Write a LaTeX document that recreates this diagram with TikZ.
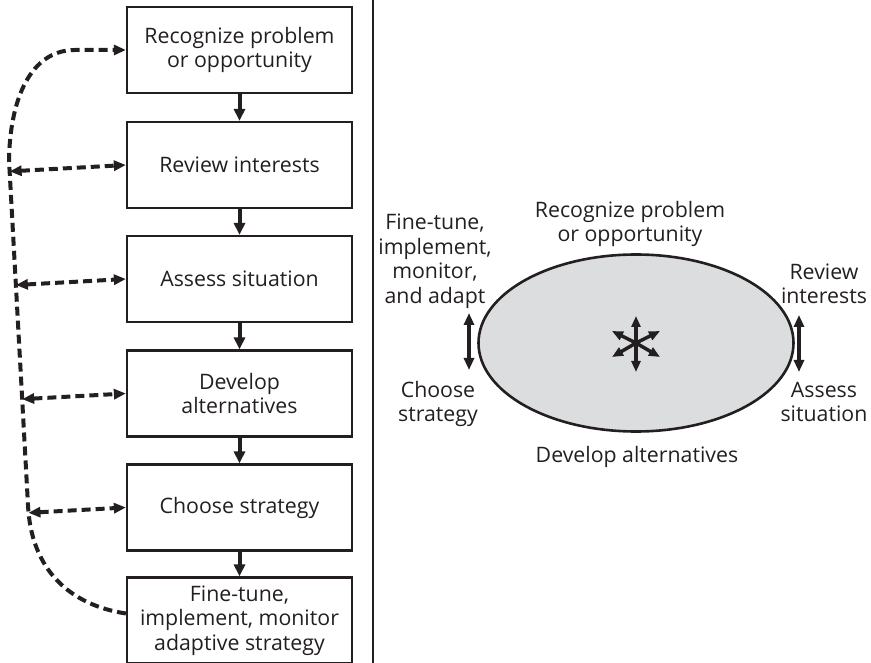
\documentclass[tikz,border=0pt]{standalone}
\usepackage{fontspec}
\setmainfont{Open Sans}
\usetikzlibrary{arrows.meta,calc,shapes.geometric}
\definecolor{ink}{HTML}{231F20}
\definecolor{panel}{HTML}{DCDDDF}
\begin{document}
\begin{tikzpicture}[x=1pt,y=-1pt,
  font=\fontsize{21.3}{24.5}\selectfont,
  every node/.style={text=ink},
  stepbox/.style={draw=ink, line width=2.2pt, minimum width=225pt,
    minimum height=86pt, align=center, inner sep=0pt},
  flow/.style={draw=ink, line width=4pt,
    -{Triangle[length=12pt,width=11pt]}},
  loop/.style={draw=ink, line width=4pt, dash pattern=on 9pt off 5pt},
  swing/.style={draw=ink, line width=4pt,
    {Triangle[length=12pt,width=10pt]}-{Triangle[length=12pt,width=10pt]}},
  spoke/.style={draw=ink, line width=3.5pt,
    -{Triangle[length=11pt,width=9pt]}},
  caption/.style={align=center, inner sep=0pt}
]
\useasboundingbox (0,0) rectangle (871,663);

% ---- left: the sequential process ----
\node[stepbox] (b1) at (239.5,50)    {Recognize problem\\or opportunity};
\node[stepbox] (b2) at (239.5,165)   {Review interests};
\node[stepbox] (b3) at (239.5,279)   {Assess situation};
\node[stepbox] (b4) at (239.5,393.5) {Develop\\alternatives};
\node[stepbox] (b5) at (239.5,507.5) {Choose strategy};
\node[stepbox] (b6) at (239.5,620.5) {Fine-tune,\\implement, monitor\\adaptive strategy};

\draw[flow] (b1) -- (b2);
\draw[flow] (b2) -- (b3);
\draw[flow] (b3) -- (b4);
\draw[flow] (b4) -- (b5);
\draw[flow] (b5) -- (b6);

% feedback loop running back up the left side
\coordinate (vt) at (9,160);
\coordinate (vb) at (28,505);
\coordinate (lt) at (75,50);
\coordinate (fb) at ($(b6.west)+(0,-7)$);
\draw[loop, -{Triangle[length=12pt,width=10pt]}]
  (fb) .. controls (70,605) and (31,570) .. (vb) -- (vt)
  .. controls (10,100) and (30,50) .. (lt) -- (b1.west);

\draw[loop, swing] ($(vt)!(b2.west)!(vb)$) -- (b2.west);
\draw[loop, swing] ($(vt)!(b3.west)!(vb)$) -- (b3.west);
\draw[loop, swing] ($(vt)!(b4.west)!(vb)$) -- (b4.west);
\draw[loop, swing] ($(vt)!(b5.west)!(vb)$) -- (b5.west);

% divider
\coordinate (dtop) at (373,0);
\coordinate (dbot) at (373,663);
\draw[ink, line width=2.8pt] (dtop) -- (dbot);

% ---- right: the simultaneous view ----
\node[draw=ink, fill=panel, ellipse, line width=2.6pt, inner sep=0pt,
  minimum width=315pt, minimum height=177pt] (cyc) at (636,343) {};

\coordinate (hub) at (cyc.center);
\coordinate (s1) at ($(hub)+(0,-27)$);
\coordinate (s2) at ($(hub)+(0,29)$);
\coordinate (s3) at ($(hub)+(-24,-12)$);
\coordinate (s4) at ($(hub)+(24,-12)$);
\coordinate (s5) at ($(hub)+(-24,14)$);
\coordinate (s6) at ($(hub)+(24,14)$);
\foreach \s in {s1,s2,s3,s4,s5,s6} \draw[spoke] (hub) -- (\s);

\coordinate (la) at (469,313);
\coordinate (lb) at (469,370);
\coordinate (ra) at (799,315);
\coordinate (rb) at (799,372);
\draw[swing] (la) -- (lb);
\draw[swing] (ra) -- (rb);

\node[caption] (t1) at (630,224)   {Recognize problem\\or opportunity};
\node[caption] (t2) at (824,284)   {Review\\interests};
\node[caption] (t3) at (824,402)   {Assess\\situation};
\node[caption] (t4) at (637,457)   {Develop alternatives};
\node[caption] (t5) at (438,404)   {Choose\\strategy};
\node[caption] (t6) at (435,261)   {Fine-tune,\\implement,\\monitor,\\and adapt};
\end{tikzpicture}
\end{document}
